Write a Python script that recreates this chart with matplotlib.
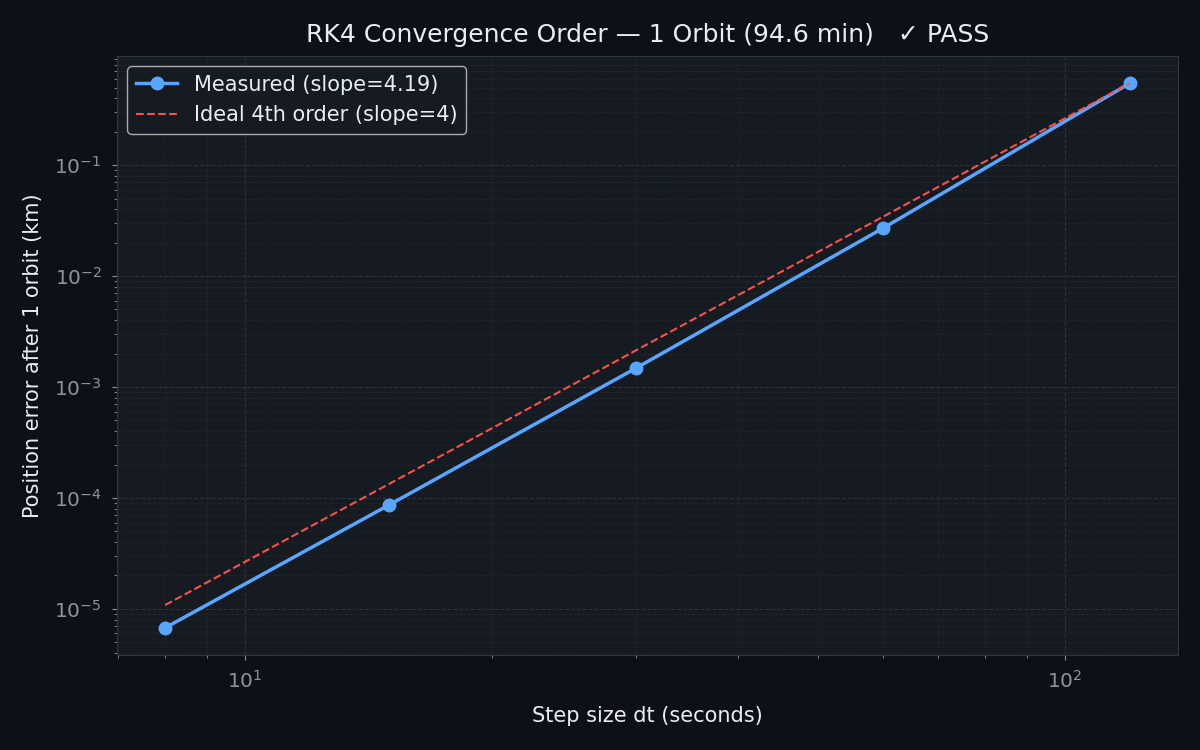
import numpy as np
import matplotlib
matplotlib.use("Agg")
import matplotlib.pyplot as plt

# step sizes (s) and position error after one orbit (km)
dt = [8, 15, 30, 60, 120]
err = [6.75e-6, 8.65e-5, 1.48e-3, 2.70e-2, 0.548]
slope = 4.19

BG = "#0d1117"
PANEL = "#161b22"
TXT = "#e6edf3"
MUTED = "#8b949e"
EDGE = "#30363d"

plt.rcParams['font.family'] = ['DejaVu Sans']

fig, ax = plt.subplots(figsize=(12, 7.5), dpi=100)
fig.patch.set_facecolor(BG)
ax.set_facecolor(PANEL)

dt_arr = np.array(dt, dtype=float)
# ideal 4th order line anchored at the coarsest step
ideal = err[-1] * (dt_arr / dt_arr[-1]) ** 4

ax.loglog(dt, err, "o-", color="#58a6ff", lw=2.5, ms=9,
          label=f"Measured (slope={slope:.2f})")
ax.loglog(dt_arr, ideal, "--", color="#f85149", lw=1.5,
          label="Ideal 4th order (slope=4)")

ax.grid(True, which="major", color="#2c323a", ls="--", lw=0.8)
ax.grid(True, which="minor", color="#22282f", ls="--", lw=0.5)

for s in ax.spines.values():
    s.set_color(EDGE)
ax.tick_params(colors=MUTED, labelcolor=MUTED, which="both", labelsize=14.5)
ax.tick_params(which="major", pad=7.5)

ax.set_xlabel("Step size dt (seconds)", color=TXT, fontsize=15, labelpad=10)
ax.set_ylabel("Position error after 1 orbit (km)", color=TXT, fontsize=15,
              labelpad=8)
ax.set_title("RK4 Convergence Order \u2014 1 Orbit (94.6 min)   \u2713 PASS",
             color=TXT, fontsize=18, pad=10)

leg = ax.legend(loc="upper left", fontsize=15, facecolor=PANEL,
                edgecolor="#aaaaaa", labelcolor=TXT, framealpha=1.0)

fig.subplots_adjust(left=0.0975, right=0.9817, top=0.9253, bottom=0.1267)
fig.savefig("out.png", facecolor=BG)
